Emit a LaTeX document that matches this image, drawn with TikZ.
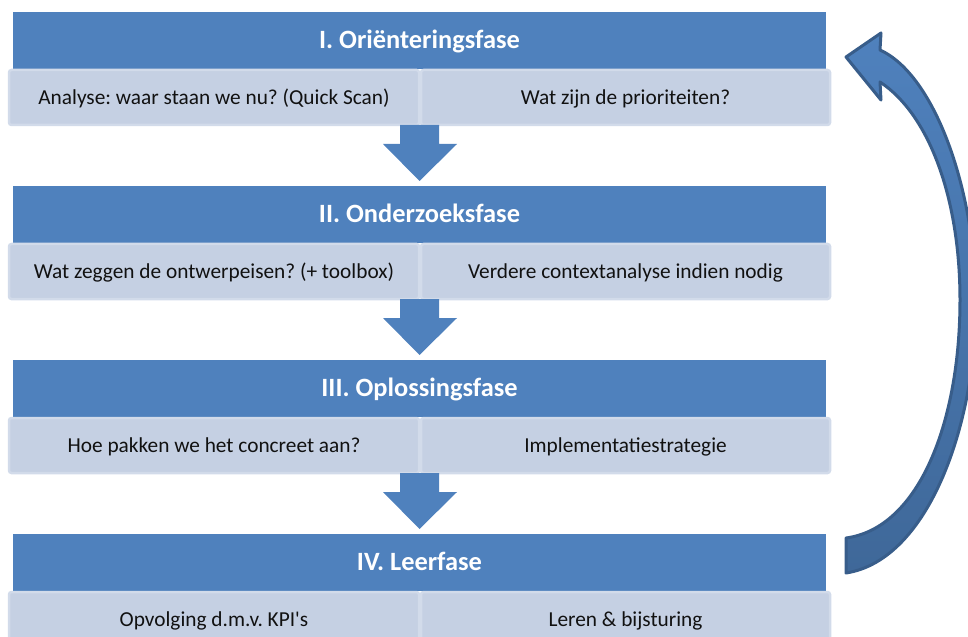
\documentclass[tikz,border=0pt]{standalone}
\usepackage{fontspec}
\setmainfont{Carlito}
\usetikzlibrary{calc}
\frenchspacing
\definecolor{hdr}{HTML}{4F81BD}
\definecolor{subfill}{HTML}{C5D0E3}
\definecolor{subline}{HTML}{D2DBEA}
\definecolor{arrline}{HTML}{385D8A}
\definecolor{arrlow}{HTML}{3F6899}
\definecolor{txt}{HTML}{111111}
\tikzset{
  header/.style={anchor=north west, fill=hdr, minimum height=57bp, minimum width=813bp,
    inner sep=0pt, outer sep=0pt, text=white, text height=15.5bp, text depth=0bp,
    font=\fontsize{26.5}{30}\selectfont\bfseries},
  subbox/.style={anchor=north west, fill=subfill, draw=subline, line width=2.5bp,
    rounded corners=2.5bp, minimum height=55bp, inner sep=0pt, outer sep=0pt,
    text height=14bp, text depth=0bp, font=\fontsize{21.4}{25}\selectfont, text=txt},
  subleft/.style={subbox, minimum width=410bp},
  subright/.style={subbox, minimum width=409bp},
  phasearrow/.style={fill=hdr},
  looparrow/.style={draw=arrline, line width=3bp, line join=round, top color=hdr, bottom color=arrlow}
}
\newcommand\PhaseArrow[2]{%
  \fill[phasearrow] ([shift={(-19.5,0)}]#1) -- ([shift={(19.5,0)}]#1) -- ([shift={(19.5,19)}]#1)
    -- ([shift={(37.5,19)}]#1) -- ([yshift=5bp]#2.north) -- ([shift={(-36.5,19)}]#1)
    -- ([shift={(-19.5,19)}]#1) -- cycle;}
\begin{document}
\begin{tikzpicture}[x=1bp,y=-1bp]
\useasboundingbox (0,0) rectangle (968,637);
\clip (0,0) rectangle (968,637);

% phase I
\node[header] (h1) at (13,12) {I. Oriënteringsfase};
\node[subleft] (s1l) at (9,70) {Analyse: waar staan we nu? (Quick Scan)};
\node[subright] (s1r) at (421,70) {Wat zijn de prioriteiten?};
% phase II
\node[header] (h2) at (13,186) {II. Onderzoeksfase};
\node[subleft] (s2l) at (9,244) {Wat zeggen de ontwerpeisen? (+ toolbox)};
\node[subright] (s2r) at (421,244) {Verdere contextanalyse indien nodig};
% phase III
\node[header] (h3) at (13,360) {III. Oplossingsfase};
\node[subleft] (s3l) at (9,418) {Hoe pakken we het concreet aan?};
\node[subright] (s3r) at (421,418) {Implementatiestrategie};
% phase IV
\node[header] (h4) at (13,534) {IV. Leerfase};
\node[subleft] (s4l) at (9,592) {Opvolging d.m.v. KPI\textquotesingle s};
\node[subright] (s4r) at (421,592) {Leren \& bijsturing};

% down arrows
\coordinate (t1) at (h1.center |- s1l.south);
\coordinate (t2) at (h2.center |- s2l.south);
\coordinate (t3) at (h3.center |- s3l.south);
\PhaseArrow{t1}{h2}
\PhaseArrow{t2}{h3}
\PhaseArrow{t3}{h4}

% loop arrow back to phase I
\path[looparrow] (846,538) .. controls (920,528) and (960,420) .. (960,300)
  .. controls (960,200) and (930,115) .. (880,82) -- (881,100) -- (846,57) -- (881,33) -- (880,50)
  .. controls (935,75) and (975,190) .. (976,300)
  .. controls (977,420) and (930,560) .. (846,573) -- cycle;
\end{tikzpicture}
\end{document}
